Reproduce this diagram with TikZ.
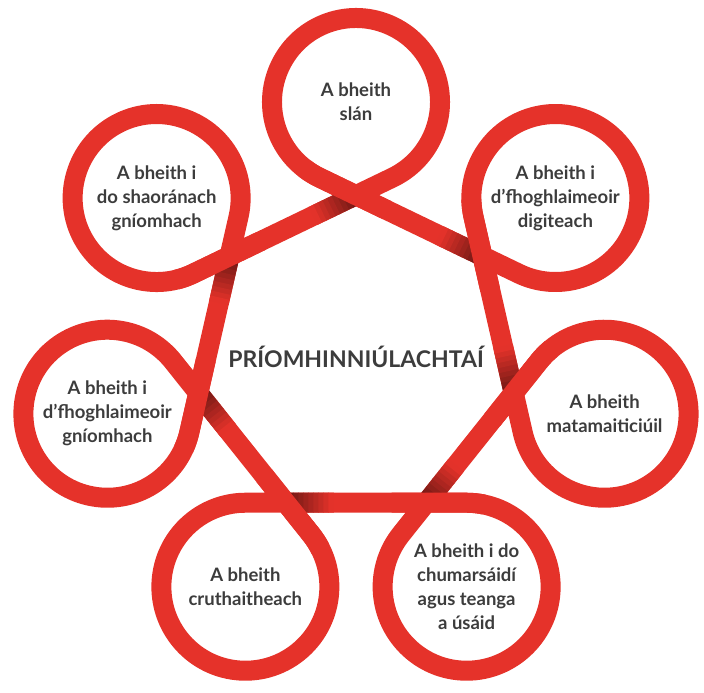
\documentclass[tikz,border=0pt]{standalone}
\usepackage{fontspec}
\setmainfont{Lato}
\usetikzlibrary{calc}
\definecolor{ribbon}{HTML}{E5322A}
\definecolor{ink}{HTML}{3C3C3C}
\tikzset{
    band/.style = {
        draw=ribbon,
        line width=20pt
    },
    goal/.style = {
        align=center,
        text=ink,
        font=\bfseries\fontsize{18.5}{24}\selectfont
    },
    hub/.style = {
        text=ink,
        font=\bfseries\fontsize{23}{28}\selectfont
    },
}

\begin{document}
\begin{tikzpicture}[x=1pt,y=1pt]
    \useasboundingbox (0,0) rectangle (704,693);
    \coordinate (O) at (356,336);
    \foreach \i in {0,...,7}
        \coordinate (c\i) at ($(O)+({90+\i*360/7}:255)$);

    % the ribbon, one loop round each circle
    \draw[band] ($(c0)+(295.71:84)$)
        \foreach \i in {1,...,7} {
            -- ($(c\i)+({244.29+\i*360/7}:84)$)
            arc[start angle={244.29+\i*360/7}, delta angle=-308.57, radius=84]
        } -- cycle;

    % crossings: shadow on the lower strand, then the upper strand again
    \foreach \i in {1,...,7} {
        \pgfmathsetmacro{\t}{90+\i*360/7}
        \foreach \k in {0,...,9} {
            \pgfmathtruncatemacro{\m}{45+\k*6}
            \draw[band, draw=ribbon!\m!black]
                ($(c\i)+({\t+205.71}:84)+({\t+115.71}:{38+5*\k})$) --
                ($(c\i)+({\t+205.71}:84)+({\t+115.71}:{43.5+5*\k})$);
        }
        \draw[band] ($(c\i)+({\t+154.29}:84)+({\t+244.29}:75)$) --
            ($(c\i)+({\t+154.29}:84)$)
            arc[start angle={\t+154.29}, delta angle=-12, radius=84];
    }

    \node[goal] (slan) at (c0) {A bheith\\slán};
    \node[goal] (saoranach) at (c1) {A bheith i\\do shaoránach\\gníomhach};
    \node[goal] (gniomhach) at (c2) {A bheith i\\d’fhoghlaimeoir\\gníomhach};
    \node[goal] (cruthaitheach) at (c3) {A bheith\\cruthaitheach};
    \node[goal] (cumarsaid) at (c4) {A bheith i do\\chumarsáidí\\agus teanga\\a úsáid};
    \node[goal] (mata) at (c5) {A bheith\\matamaiticiúil};
    \node[goal] (digiteach) at (c6) {A bheith i\\d’fhoghlaimeoir\\digiteach};
    \node[hub] (hub) at (O) {PRÍOMHINNIÚLACHTAÍ};
\end{tikzpicture}
\end{document}
